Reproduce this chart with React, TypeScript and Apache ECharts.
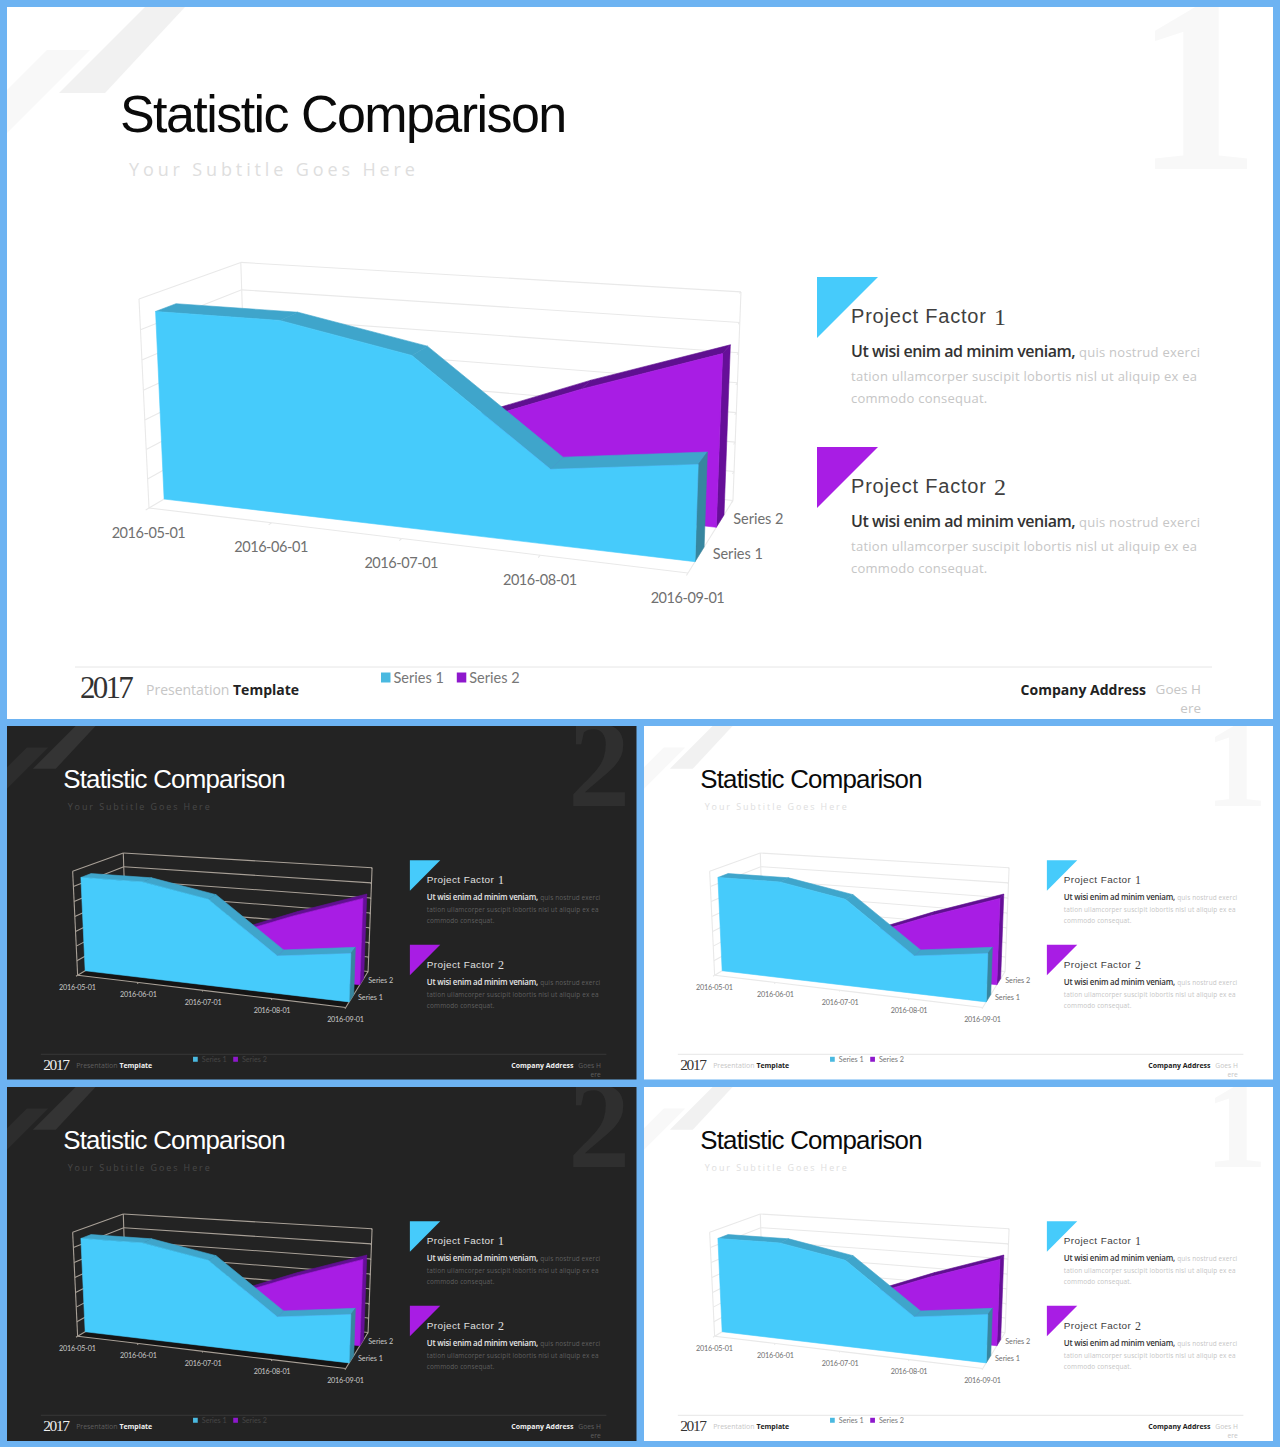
import React, { useEffect, useRef } from "react";
import * as echarts from "echarts";

const categories = ["2016-05-01", "2016-06-01", "2016-07-01", "2016-08-01", "2016-09-01"];
const series1Name = "Series 1";
const series2Name = "Series 2";
const series1Values = [32, 32, 28, 12, 15];
const series2Values = [10, 11, 12, 20.5, 28];
const gridValues = [0, 5, 10, 15, 20, 25, 30, 35];

const titleText = "Statistic Comparison";
const subtitleText = "Your Subtitle Goes Here";
const factorLabel = "Project Factor";
const leadText = "Ut wisi enim ad minim veniam,";
const restLines = ["quis nostrud exerci", "tation ullamcorper suscipit lobortis nisl ut aliquip ex ea", "commodo consequat."];
const footerYear = "2017";

// letter spacing in em, applied to the svg texts after rendering
const SPACING: Record<string, number> = {
  [titleText]: -0.03,
  [subtitleText]: 0.215,
  [factorLabel]: 0.04,
  [leadText]: -0.03,
  [restLines[0]]: 0.02,
  [restLines[1]]: 0.02,
  [restLines[2]]: 0.02,
  [footerYear]: -0.09,
};
categories.forEach((c) => {
  SPACING[c] = -0.03;
});

const BLUE = "#46CBFB";
const BLUE_TOP = "#3FA5CB";
const BLUE_SIDE = "#37869F";
const PURPLE = "#A81DE4";
const PURPLE_TOP = "#5F1090";
const PURPLE_SIDE = "#660F98";

const S = 0.4974;
const PANELS = [
  { x: 7, y: 7, w: 1266, h: 712, s: 1, dark: false, digit: "1" },
  { x: 7, y: 726, w: 1266 * S, h: 712 * S, s: S, dark: true, digit: "2" },
  { x: 644, y: 726, w: 1266 * S, h: 712 * S, s: S, dark: false, digit: "1" },
  { x: 7, y: 1087, w: 1266 * S, h: 712 * S, s: S, dark: true, digit: "2" },
  { x: 644, y: 1087, w: 1266 * S, h: 712 * S, s: S, dark: false, digit: "1" },
];
type Panel = (typeof PANELS)[number];

// projective camera of the 3D box, in the large panel's pixels
const P0 = [149, 508];
const PU = [688, 573];
const PV = [139, 299];
const PW = [247, 450];
const A = -0.117;
const B = -0.03;
const C = 0.12;
function project(p: Panel, u: number, v: number, w: number): number[] {
  const d = 1 + A * u + B * v + C * w;
  const out = [0, 1].map(
    (k) =>
      (P0[k] +
        u * ((1 + A) * PU[k] - P0[k]) +
        v * ((1 + B) * PV[k] - P0[k]) +
        w * ((1 + C) * PW[k] - P0[k])) /
      d
  );
  return [p.x + (out[0] - 7) * p.s, p.y + (out[1] - 7) * p.s];
}

function uv(params: any, pt: number[]) {
  const r = params.coordSys;
  return [(pt[0] - r.x) / r.width, (r.y + r.height - pt[1]) / r.height];
}

function poly(points: number[][], fill: string, z2: number) {
  return {
    type: "polygon",
    z2,
    shape: { points },
    style: { fill, stroke: fill, lineWidth: 0.6 },
  };
}
function seg(a: number[], b: number[], stroke: string, lineWidth: number) {
  return {
    type: "line",
    z2: 1,
    shape: { x1: a[0], y1: a[1], x2: b[0], y2: b[1] },
    style: { stroke, lineWidth, fill: null },
  };
}

const gridColor = (p: Panel) => (p.dark ? "#A8A097" : "#E9E9E9");
const labelColor = (p: Panel) => (p.dark ? "#C8C8C8" : "#707070");

function areaSeries(
  p: Panel,
  idx: number,
  z: number,
  name: string,
  values: number[],
  w1: number,
  w2: number,
  front: string,
  top: string,
  side: string,
  labelDy: number
) {
  return {
    type: "custom",
    name,
    z,
    xAxisIndex: idx,
    yAxisIndex: idx,
    silent: true,
    itemStyle: { color: front },
    encode: { x: 0, y: 1 },
    data: categories.map((c, i) => [c, values[i]]),
    renderItem: (params: any, api: any) => {
      const i = params.dataIndex;
      const [u, v] = uv(params, api.coord([i, api.value(1)]));
      const children: any[] = [];
      if (i === 0) {
        // the front face is one polygon through all of the series' points
        const outline = categories.map((_, k) => {
          const [uk, vk] = uv(params, api.coord([k, api.value(1, k)]));
          return project(p, uk, vk, w1);
        });
        const [uEnd] = uv(params, api.coord([categories.length - 1, 0]));
        children.push(poly([project(p, u, 0, w1), ...outline, project(p, uEnd, 0, w1)], front, 3));
      }
      if (i < categories.length - 1) {
        const [u2, v2] = uv(params, api.coord([i + 1, api.value(1, params.dataIndexInside + 1)]));
        children.push(
          poly(
            [project(p, u, v, w1), project(p, u2, v2, w1), project(p, u2, v2, w2), project(p, u, v, w2)],
            top,
            1
          )
        );
      } else {
        children.push(
          poly(
            [project(p, u, 0, w1), project(p, u, v, w1), project(p, u, v, w2), project(p, u, 0, w2)],
            side,
            2
          )
        );
        const at = project(p, u, 0, (w1 + w2) / 2);
        children.push({
          type: "text",
          z2: 4,
          style: {
            text: name,
            x: at[0] + 13 * p.s,
            y: at[1] + labelDy * p.s,
            font: `${14.5 * p.s}px Lato`,
            fill: labelColor(p),
            align: "left",
            verticalAlign: "middle",
          },
        });
      }
      return { type: "group", children };
    },
  };
}

function wallSeries(p: Panel, idx: number) {
  return {
    type: "custom",
    z: 1,
    xAxisIndex: idx,
    yAxisIndex: idx,
    silent: true,
    encode: { x: 0, y: 1 },
    data: gridValues.map((t) => [categories[0], t]),
    renderItem: (params: any, api: any) => {
      const [, v] = uv(params, api.coord([0, api.value(1)]));
      const c = gridColor(p);
      const lw = 1.1;
      const children: any[] = [];
      if (params.dataIndex === 0) {
        if (p.dark) {
          children.push(
            poly([project(p, 0, 0, 0), project(p, 1, 0, 0), project(p, 1, 0, 1), project(p, 0, 0, 1)], "#141414", 0)
          );
        }
        children.push(seg(project(p, 0, 0, 0), project(p, 0, 1, 0), c, lw));
        children.push(seg(project(p, 0, 0, 1), project(p, 0, 1, 1), c, lw));
        children.push(seg(project(p, 1, 0, 1), project(p, 1, 1, 1), c, lw));
        children.push(seg(project(p, 1, 0, 0), project(p, 1, 0, 1), c, lw));
      }
      children.push(seg(project(p, 0, v, 0), project(p, 0, v, 1), c, lw));
      children.push(seg(project(p, 0, v, 1), project(p, 1, v, 1), c, lw));
      children.push(seg(project(p, 1, v, 1), project(p, 1, v, 0.96), c, lw));
      return { type: "group", children };
    },
  };
}

function floorSeries(p: Panel, idx: number) {
  return {
    type: "custom",
    z: 1,
    xAxisIndex: idx,
    yAxisIndex: idx,
    silent: true,
    encode: { x: 0, y: 1 },
    data: categories.map((c) => [c, gridValues[0]]),
    renderItem: (params: any, api: any) => {
      const i = params.dataIndex;
      const [u] = uv(params, api.coord([i, api.value(1)]));
      const c = gridColor(p);
      const a = project(p, u, 0, 0);
      const children: any[] = [seg(a, project(p, u, 0, -0.03), c, 1.1)];
      if (i < categories.length - 1) {
        const [u2] = uv(params, api.coord([i + 1, api.value(1)]));
        children.push(seg(a, project(p, u2, 0, 0), c, 1.1));
      }
      children.push({
        type: "text",
        z2: 4,
        style: {
          text: categories[i],
          x: a[0] - 0.5 * p.s,
          y: a[1] + 24 * p.s,
          font: `${14.5 * p.s}px Lato`,
          fill: labelColor(p),
          align: "center",
          verticalAlign: "middle",
        },
      });
      return { type: "group", children };
    },
  };
}

function panelGraphics(p: Panel) {
  const X = (x: number) => p.x + (x - 7) * p.s;
  const Y = (y: number) => p.y + (y - 7) * p.s;
  const pts = (list: number[][]) => list.map((q) => [X(q[0]), Y(q[1])]);
  const bg = p.dark ? "#232323" : "#FFFFFF";
  const strong = p.dark ? "#FFFFFF" : "#0A0A0A";
  const body = p.dark ? "#E6E6E6" : "#333333";
  const faint = p.dark ? "#5F5F5F" : "#C6C6C6";
  const sub = p.dark ? "#484848" : "#DEDEDE";
  const factor = p.dark ? "#E0E0E0" : "#404040";
  const txt = (
    text: string,
    x: number,
    y: number,
    size: number,
    family: string,
    fill: string,
    weight = "normal",
    align = "left"
  ) => ({
    type: "text",
    silent: true,
    style: {
      text,
      x: X(x),
      y: Y(y),
      font: `${weight} ${size * p.s}px ${family}`,
      fill,
      align,
      verticalAlign: "middle",
    },
  });
  const poly2 = (list: number[][], fill: string) => ({
    type: "polygon",
    silent: true,
    shape: { points: pts(list) },
    style: { fill },
  });
  const SANS = '"Liberation Sans"';
  const SERIF = '"Liberation Serif"';
  const OPEN = '"Open Sans"';
  const items: any[] = [
    { type: "rect", silent: true, shape: { x: p.x, y: p.y, width: p.w, height: p.h }, style: { fill: bg } },
    poly2([[145, 7], [185, 7], [105, 93], [59, 93]], p.dark ? "#343434" : "#F1F1F1"),
    poly2([[47, 50], [90, 50], [7, 133], [7, 90]], p.dark ? "#2D2D2D" : "#F8F8F8"),
    txt(p.digit, 1197.5, 84, 250, SERIF, p.dark ? "#2F2F2F" : "#F8F8F8", "bold", "center"),
    txt(titleText, 120, 114, 52, SANS, strong),
    txt(subtitleText, 129, 169, 18, OPEN, sub),
    poly2([[817, 277], [878, 277], [817, 338]], BLUE),
    poly2([[817, 447], [878, 447], [817, 508]], PURPLE),
    { type: "line", silent: true, shape: { x1: X(75), y1: Y(667), x2: X(1212), y2: Y(667) }, style: { stroke: p.dark ? "#383838" : "#E6E6E6", lineWidth: 1 } },
    txt(footerYear, 80, 687, 31, SERIF, p.dark ? "#F0F0F0" : "#333333"),
    txt("Presentation", 146, 689, 14, OPEN, faint),
    txt("Template", 233, 689, 14, OPEN, p.dark ? "#F0F0F0" : "#222222", "bold"),
    txt("Company Address", 1146, 689, 14, OPEN, p.dark ? "#F0F0F0" : "#222222", "bold", "right"),
    txt("Goes H", 1201, 689, 13.5, OPEN, faint, "normal", "right"),
    txt("ere", 1201, 708, 13.5, OPEN, faint, "normal", "right"),
  ];
  [0, 170].forEach((dy, n) => {
    items.push(txt(factorLabel, 851, 316 + dy, 20, SANS, factor));
    items.push(txt(String(n + 1), 994, 317 + dy, 24, SERIF, factor));
    items.push(txt(leadText, 851, 351 + dy, 16, OPEN, body, "600"));
    items.push(txt(restLines[0], 1079, 352 + dy, 13, OPEN, faint));
    items.push(txt(restLines[1], 851, 376 + dy, 13, OPEN, faint));
    items.push(txt(restLines[2], 851, 398 + dy, 13, OPEN, faint));
  });
  return items;
}

function buildOption() {
  const grid = PANELS.map((p) => ({ left: p.x, top: p.y, width: p.w, height: p.h, show: false }));
  const xAxis = PANELS.map((_, i) => ({
    type: "category",
    gridIndex: i,
    data: categories,
    boundaryGap: false,
    show: false,
  }));
  const yAxis = PANELS.map((_, i) => ({
    type: "value",
    gridIndex: i,
    min: gridValues[0],
    max: gridValues[gridValues.length - 1],
    interval: gridValues[1] - gridValues[0],
    show: false,
  }));
  const series: any[] = [];
  PANELS.forEach((p, i) => {
    series.push(wallSeries(p, i));
    series.push(floorSeries(p, i));
    series.push(areaSeries(p, i, 2, series2Name, series2Values, 0.6, 0.78, PURPLE, PURPLE_TOP, PURPLE_SIDE, -3));
    series.push(areaSeries(p, i, 3, series1Name, series1Values, 0.14, 0.33, BLUE, BLUE_TOP, BLUE_SIDE, -1));
  });
  const legend = PANELS.map((p) => ({
    show: true,
    left: p.x + (381 - 7) * p.s,
    top: p.y + (670 - 7) * p.s,
    padding: 0,
    itemWidth: 9.5 * p.s,
    itemHeight: 10 * p.s,
    itemGap: 13 * p.s,
    icon: "rect",
    selectedMode: false,
    textStyle: {
      fontFamily: "Lato",
      fontSize: 14.5 * p.s,
      color: p.dark ? "#454545" : "#777777",
      padding: [0, 0, 0, -2 * p.s],
    },
    data: [
      { name: series1Name, itemStyle: { color: "#4AB9E0" } },
      { name: series2Name, itemStyle: { color: "#8E18CC" } },
    ],
  }));
  const strips = [
    [0, 0, 1280, 7],
    [0, 719, 1280, 7],
    [0, 1079.5, 1280, 7.5],
    [0, 1441, 1280, 6],
    [0, 0, 7, 1447],
    [1273, 0, 7, 1447],
    [636.7, 726, 7.3, 721],
  ].map((r) => ({
    type: "rect",
    silent: true,
    z: 50,
    shape: { x: r[0], y: r[1], width: r[2], height: r[3] },
    style: { fill: "#6DB3F2" },
  }));
  return {
    animation: false,
    backgroundColor: "#6DB3F2",
    grid,
    xAxis,
    yAxis,
    legend,
    series,
    // lower panels first, so that an upper panel's background hides a big digit's overflow
    graphic: { elements: [...[...PANELS].reverse().flatMap(panelGraphics), ...strips] },
  };
}

export default function App() {
  const ref = useRef<HTMLDivElement>(null);
  useEffect(() => {
    if (!ref.current) return;
    const chart = echarts.init(ref.current, undefined, { renderer: "svg" });
    const applySpacing = () => {
      ref.current?.querySelectorAll("text").forEach((t: any) => {
        const em = SPACING[t.textContent || ""];
        if (em !== undefined) t.style.letterSpacing = `${em}em`;
      });
    };
    chart.on("finished", applySpacing);
    chart.setOption(buildOption() as any);
    applySpacing();
    return () => chart.dispose();
  }, []);
  return <div ref={ref} style={{ position: "absolute", left: 0, top: 0, width: 1280, height: 1447 }} />;
}
